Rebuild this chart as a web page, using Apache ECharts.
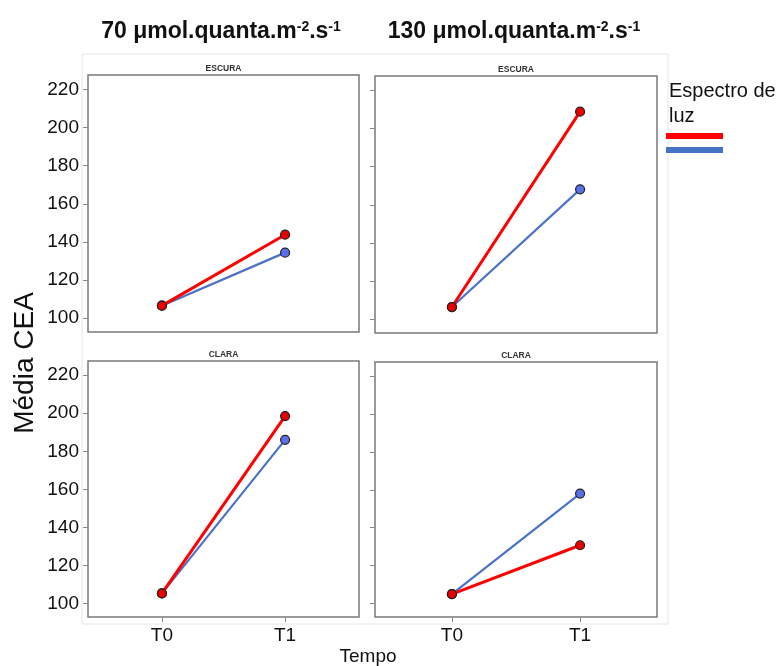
<!DOCTYPE html>
<html><head><meta charset="utf-8">
<script src="https://cdn.jsdelivr.net/npm/echarts@6/dist/echarts.min.js"></script>
<style>html,body{margin:0;padding:0;background:#fff}#c{width:779px;height:666px}</style>
</head><body><div id="c"></div>
<script>
const categories = ['T0', 'T1'];
const yTickValues = [100, 120, 140, 160, 180, 200, 220];
const panelTitles = ['ESCURA', 'ESCURA', 'CLARA', 'CLARA'];
const irradiance = ['70', '130'];
const red70Escura = [106.6, 143.8];
const blue70Escura = [106.6, 134.4];
const red130Escura = [106.4, 208.8];
const blue130Escura = [106.4, 168.1];
const red70Clara = [105.2, 198.5];
const blue70Clara = [105.2, 186.0];
const red130Clara = [104.9, 130.7];
const blue130Clara = [104.9, 158.0];

const redSets = [red70Escura, red130Escura, red70Clara, red130Clara];
const blueSets = [blue70Escura, blue130Escura, blue70Clara, blue130Clara];

const grids = [
  {left: 88, top: 75, width: 271, height: 257},
  {left: 375, top: 76, width: 282, height: 257},
  {left: 88, top: 361, width: 271, height: 256},
  {left: 375, top: 362, width: 282, height: 255}
];
const font = 'Liberation Sans, Arial, sans-serif';
const chart = echarts.init(document.getElementById('c'));

const xAxes = [], yAxes = [], series = [];
grids.forEach((g, i) => {
  g.show = true; g.borderColor = '#7a7a7a'; g.borderWidth = 1.5; g.backgroundColor = '#fff';
  const bottom = i >= 2;
  xAxes.push({
    type: 'value', gridIndex: i, min: -0.6, max: 1.6,
    axisLine: {show: false, onZero: false}, splitLine: {show: false},
    axisTick: {show: bottom, customValues: [0, 1], length: 5, lineStyle: {color: '#888'}},
    axisLabel: {show: bottom, customValues: [0, 1], formatter: v => categories[Math.round(v)],
      fontSize: 19, color: '#111', fontFamily: font, margin: 9}
  });
  const left = i % 2 === 0;
  yAxes.push({
    type: 'value', gridIndex: i, min: 92.8, max: 227.5,
    axisLine: {show: false, onZero: false}, splitLine: {show: false},
    axisTick: {show: true, customValues: yTickValues, length: 5, lineStyle: {color: '#888'}},
    axisLabel: {show: left, customValues: yTickValues, fontSize: 19, color: '#111', fontFamily: font, margin: 9}
  });
  series.push({
    name: 'Azul', type: 'line', xAxisIndex: i, yAxisIndex: i,
    data: blueSets[i].map((v, k) => [k, v]),
    lineStyle: {color: '#4a72c8', width: 2.2},
    symbol: 'circle', symbolSize: 9,
    itemStyle: {color: '#5a6ee8', borderColor: '#222', borderWidth: 1.2},
    z: 2, animation: false
  });
  series.push({
    name: 'Vermelho', type: 'line', xAxisIndex: i, yAxisIndex: i,
    data: redSets[i].map((v, k) => [k, v]),
    lineStyle: {color: '#ff0000', width: 3},
    symbol: 'circle', symbolSize: 9,
    itemStyle: {color: '#e80000', borderColor: '#222', borderWidth: 1.2},
    z: 3, animation: false
  });
});

const titleRich = {
  a: {fontSize: 23, fontWeight: 'bold', color: '#111', fontFamily: font},
  s: {fontSize: 14, fontWeight: 'bold', color: '#111', fontFamily: font, verticalAlign: 'top', padding: [0, 0, 10, 0]}
};
const titles = [
  {text: '{a|' + irradiance[0] + ' μmol.quanta.m}{s|-2}{a|.s}{s|-1}', left: 221, top: 20, textAlign: 'center', padding: 0,
   textStyle: {rich: titleRich}},
  {text: '{a|' + irradiance[1] + ' μmol.quanta.m}{s|-2}{a|.s}{s|-1}', left: 514, top: 20, textAlign: 'center', padding: 0,
   textStyle: {rich: titleRich}}
];
grids.forEach((g, i) => {
  titles.push({text: panelTitles[i], left: g.left + g.width / 2, top: g.top - 11, textAlign: 'center', padding: 0,
    textStyle: {fontSize: 8.5, fontWeight: 'bold', color: '#333', fontFamily: font}});
});

chart.setOption({
  animation: false,
  title: titles,
  grid: grids,
  xAxis: xAxes,
  yAxis: yAxes,
  series: series,
  legend: {
    left: 666, top: 133, padding: 0, orient: 'vertical', icon: 'rect', itemWidth: 57, itemHeight: 6, itemGap: 8,
    formatter: () => '', selectedMode: false,
    data: [{name: 'Vermelho', itemStyle: {color: '#ff0000', borderWidth: 0}},
           {name: 'Azul', itemStyle: {color: '#4472c4', borderWidth: 0}}]
  },
  graphic: [
    {type: 'rect', shape: {x: 82, y: 54, width: 586, height: 570}, style: {fill: 'none', stroke: '#e6e6e6', lineWidth: 1}, z: -10},
    {type: 'text', left: 669, top: 79, style: {text: 'Espectro de\nluz', fontSize: 20, lineHeight: 25, fill: '#111', fontFamily: font}},
    {type: 'text', x: 25, y: 363, rotation: Math.PI / 2, style: {text: 'Média CEA', fontSize: 28, fill: '#111', fontFamily: font, align: 'center', verticalAlign: 'middle'}},
    {type: 'text', x: 368, y: 657, style: {text: 'Tempo', fontSize: 19, fill: '#111', fontFamily: font, align: 'center', verticalAlign: 'middle'}}
  ]
});
</script></body></html>
